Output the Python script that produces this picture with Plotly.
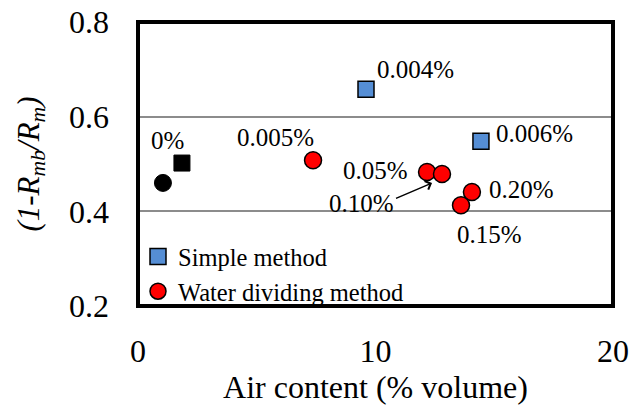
import plotly.graph_objects as go

# Data
simple_x = [9.6, 14.44]
simple_y = [0.658, 0.548]
water_x = [7.37, 12.17, 12.8, 14.06, 13.6]
water_y = [0.508, 0.483, 0.479, 0.441, 0.413]
ref_sq_x = [1.85]
ref_sq_y = [0.502]
ref_ci_x = [1.05]
ref_ci_y = [0.46]

label_text = ["0%", "0.005%", "0.004%", "0.006%", "0.05%", "0.20%", "0.15%"]
label_x = [1.26, 5.77, 11.7, 16.7, 9.98, 16.13, 14.82]
label_y = [0.55, 0.555, 0.699, 0.565, 0.487, 0.447, 0.352]

arrow_label = "0.10%"
arrow_head = (12.38, 0.46)
arrow_tail = (10.8, 0.426)
arrow_label_pos = (9.43, 0.417)

FONT = "'Liberation Serif', serif"

fig = go.Figure()
fig.add_trace(go.Scatter(x=ref_sq_x, y=ref_sq_y, mode="markers", showlegend=False,
                         marker=dict(symbol="square", size=16, color="black",
                                     line=dict(color="black", width=1))))
fig.add_trace(go.Scatter(x=ref_ci_x, y=ref_ci_y, mode="markers", showlegend=False,
                         marker=dict(symbol="circle", size=17, color="black",
                                     line=dict(color="black", width=1))))
fig.add_trace(go.Scatter(x=simple_x, y=simple_y, mode="markers", name="Simple method",
                         marker=dict(symbol="square", size=16, color="#558ED5",
                                     line=dict(color="black", width=1.5))))
fig.add_trace(go.Scatter(x=water_x, y=water_y, mode="markers", name="Water dividing method",
                         marker=dict(symbol="circle", size=17, color="#FF0000",
                                     line=dict(color="black", width=1.5))))

annotations = []
for t, x, y in zip(label_text, label_x, label_y):
    annotations.append(dict(x=x, y=y, text=t, showarrow=False,
                            font=dict(family=FONT, size=25, color="black")))
annotations.append(dict(x=arrow_label_pos[0], y=arrow_label_pos[1], text=arrow_label,
                        showarrow=False, font=dict(family=FONT, size=25, color="black")))
annotations.append(dict(x=arrow_head[0], y=arrow_head[1], ax=arrow_tail[0], ay=arrow_tail[1],
                        xref="x", yref="y", axref="x", ayref="y", text="",
                        showarrow=True, arrowhead=4, arrowsize=1.2, arrowwidth=1.5,
                        arrowcolor="black"))

fig.update_layout(
    width=633, height=407,
    margin=dict(l=138, r=20, t=22, b=101, autoexpand=False),
    paper_bgcolor="white", plot_bgcolor="white",
    font=dict(family=FONT, color="black"),
    showlegend=True,
    legend=dict(x=0.0, y=-0.028, xanchor="left", yanchor="bottom",
                bgcolor="rgba(0,0,0,0)", font=dict(family=FONT, size=24.5),
                itemwidth=30, tracegroupgap=0),
    annotations=annotations,
    shapes=[dict(type="rect", xref="paper", yref="paper", x0=0, y0=0, x1=1, y1=1,
                 line=dict(color="black", width=4), layer="above")],
)
fig.update_xaxes(range=[0, 20], tickvals=[0, 10, 20], showgrid=False, zeroline=False,
                 showline=False, ticks="", ticklabelstandoff=23, automargin=False,
                 tickfont=dict(family=FONT, size=32),
                 title=dict(text="Air content (% volume)", font=dict(family=FONT, size=32),
                            standoff=5))
fig.update_yaxes(range=[0.2, 0.8], tickvals=[0.2, 0.4, 0.6, 0.8], ticktext=["0.2", "0.4", "0.6", "0.8"],
                 showgrid=True, gridcolor="#8c8c8c", gridwidth=1.5, zeroline=False,
                 showline=False, ticks="", ticklabelstandoff=28, automargin=False,
                 tickfont=dict(family=FONT, size=32),
                 title=dict(text="<i>(1-R<sub>mb</sub>/R<sub>m</sub>)</i>",
                            font=dict(family=FONT, size=31), standoff=20))

fig.write_html(
    "out.html",
    config={"displayModeBar": False},
    post_script="document.body.style.margin='0';document.documentElement.style.overflow='hidden';document.body.style.overflow='hidden';",
)
